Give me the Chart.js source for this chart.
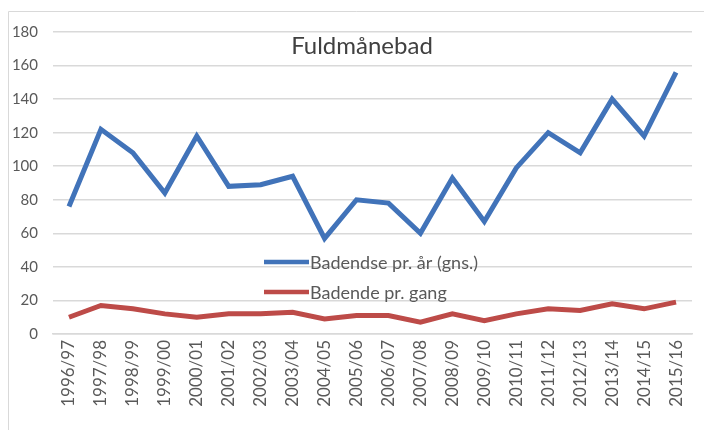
<!DOCTYPE html>
<html>
<head>
<meta charset="utf-8">
<script src="https://cdn.jsdelivr.net/npm/chart.js@4/dist/chart.umd.min.js"></script>
<style>
  html, body { margin: 0; padding: 0; background: #fff; }
  #wrap { position: relative; width: 704px; height: 430px; }
</style>
</head>
<body>
<div id="wrap"><canvas id="lineChart" width="704" height="430"></canvas></div>
<script>
    var seasons = ['1996/97', '1997/98', '1998/99', '1999/00', '2000/01', '2001/02', '2002/03',
        '2003/04', '2004/05', '2005/06', '2006/07', '2007/08', '2008/09', '2009/10',
        '2010/11', '2011/12', '2012/13', '2013/14', '2014/15', '2015/16'];
    var perYear = [76, 122, 108, 84, 118, 88, 89, 94, 57, 80, 78, 60, 93, 67, 99, 120, 108, 140, 118, 156];
    var perTime = [10, 17, 15, 12, 10, 12, 12, 13, 9, 11, 11, 7, 12, 8, 12, 15, 14, 18, 15, 19];
    var seriesNames = ['Badendse pr. år (gns.)', 'Badende pr. gang'];
    var chartTitle = 'Fuldmånebad';

    var FONT = 'Lato, "Open Sans", sans-serif';

    // frame, title and the legend sitting inside the plot
    var decor = {
        id: 'decor',
        beforeDraw: function(chart) {
            var c = chart.ctx;
            c.save();
            c.strokeStyle = '#d9d9d9';
            c.lineWidth = 1;
            c.beginPath();
            c.moveTo(8.5, 430);
            c.lineTo(8.5, 11.5);
            c.lineTo(704, 11.5);
            c.stroke();
            c.restore();
        },
        afterDatasetsDraw: function(chart) {
            var c = chart.ctx;
            c.save();
            c.fillStyle = '#404040';
            c.font = '24px ' + FONT;
            c.textAlign = 'center';
            c.textBaseline = 'middle';
            c.fillText(chartTitle, 362, 46);

            var rows = [262, 292];
            c.font = '18px ' + FONT;
            c.textAlign = 'left';
            chart.data.datasets.forEach(function(ds, i) {
                c.strokeStyle = ds.borderColor;
                c.lineWidth = 4.5;
                c.beginPath();
                c.moveTo(264, rows[i]);
                c.lineTo(309, rows[i]);
                c.stroke();
                c.fillStyle = '#595959';
                c.fillText(ds.label, 310, rows[i] + 1);
            });
            c.restore();
        }
    };

    var ctx = document.getElementById('lineChart').getContext('2d');
    var lineChart = new Chart(ctx, {
        type: 'line',
        data: {
            labels: seasons,
            datasets: [{
                label: seriesNames[0],
                data: perYear,
                borderColor: '#4173b9',
                borderWidth: 5,
                pointRadius: 0,
                tension: 0
            }, {
                label: seriesNames[1],
                data: perTime,
                borderColor: '#bd4b48',
                borderWidth: 5,
                pointRadius: 0,
                tension: 0
            }]
        },
        options: {
            responsive: false,
            animation: false,
            layout: { padding: { left: 8, top: 32, right: 12, bottom: 0 } },
            plugins: {
                legend: { display: false },
                tooltip: { enabled: false }
            },
            scales: {
                x: {
                    offset: true,
                    afterFit: function(scale) { scale.height = 96; },
                    grid: { display: false, drawTicks: false },
                    border: { color: '#d9d9d9', width: 1.5 },
                    ticks: {
                        autoSkip: false,
                        maxRotation: 90,
                        minRotation: 90,
                        padding: 6,
                        color: '#595959',
                        font: { family: FONT, size: 17 }
                    }
                },
                y: {
                    min: 0,
                    max: 180,
                    afterFit: function(scale) { scale.width = 45; },
                    grid: { color: '#d9d9d9', lineWidth: 1.5, drawTicks: false },
                    border: { display: false },
                    ticks: {
                        stepSize: 20,
                        padding: 15,
                        color: '#595959',
                        font: { family: FONT, size: 15 }
                    }
                }
            }
        },
        plugins: [decor]
    });
</script>
</body>
</html>
